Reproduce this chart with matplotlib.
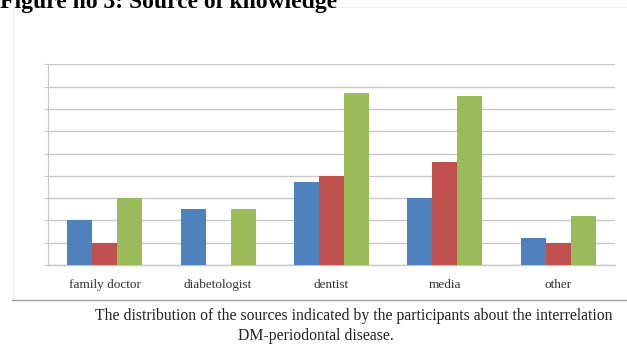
#!/usr/bin/env python
# -*- coding: utf-8 -*-

"""
Source of knowledge bar chart (Figure no 3).
"""

import numpy as np
import matplotlib
matplotlib.use("Agg")
import matplotlib.pyplot as plt
from matplotlib.patches import Rectangle
from matplotlib.lines import Line2D

# Data (grid step = 5)
categories = ["family doctor", "diabetologist", "dentist", "media", "other"]
series_blue = [10, 12.5, 18.5, 15, 6]
series_red = [5, 0, 20, 23, 5]
series_green = [15, 12.5, 38.5, 38, 11]

title = "Figure no 3: Source of knowledge"
caption_1 = "The distribution of the sources indicated by the participants about the interrelation"
caption_2 = "DM-periodontal disease."

colors = ["#4F81BD", "#C0504D", "#9BBB59"]
grid_color = "#C8C8C8"
serif = ["Liberation Serif", "DejaVu Serif"]

fig = plt.figure(figsize=(6.27, 3.47), dpi=100)

# faint chart frame
fig.patches.append(Rectangle((13 / 627, 47 / 347), 1 - 13 / 627, 1 - 7 / 347 - 47 / 347,
                             transform=fig.transFigure, fill=False,
                             edgecolor="#EEEEEE", linewidth=0.8))

ax = fig.add_axes([48 / 627, 1 - 265 / 347, (615 - 48) / 627, (265 - 64.3) / 347])

x = np.arange(len(categories))
w = 0.22
for i, (vals, c) in enumerate(zip([series_blue, series_red, series_green], colors)):
    ax.bar(x + (i - 1) * w, vals, width=w, color=c, zorder=3)

ax.set_xlim(-0.5, len(categories) - 0.5)
ax.set_ylim(0, 45)
ax.set_yticks(np.arange(0, 46, 5))
ax.set_yticklabels([])
ax.yaxis.grid(True, color=grid_color, linewidth=1.0, zorder=0)
ax.tick_params(axis="y", length=3, color=grid_color, width=0.8)
ax.tick_params(axis="x", length=0, pad=10)
ax.set_xticks(x)
ax.set_xticklabels(categories, fontsize=9.5, family=serif, color="#333333")

for side in ["top", "right"]:
    ax.spines[side].set_visible(False)
ax.spines["left"].set_color(grid_color)
ax.spines["bottom"].set_color(grid_color)
ax.spines["left"].set_linewidth(0.8)
ax.spines["bottom"].set_linewidth(1.0)

# title (cut at the top edge in the original)
fig.text(0.0, 1 - 8 / 347, title, fontsize=17, fontweight="bold", family=serif,
         ha="left", va="baseline")

# separator line under the chart
fig.add_artist(Line2D([12 / 627, 1], [1 - 300 / 347] * 2, transform=fig.transFigure,
                      color="#A0A0A0", linewidth=1.0))

fig.text(354 / 627, 1 - 320 / 347, caption_1, fontsize=11.3, family=serif,
         ha="center", va="baseline", color="#222222")
fig.text(316 / 627, 1 - 340 / 347, caption_2, fontsize=11.3, family=serif,
         ha="center", va="baseline", color="#222222")

fig.savefig("out.png", dpi=100)
